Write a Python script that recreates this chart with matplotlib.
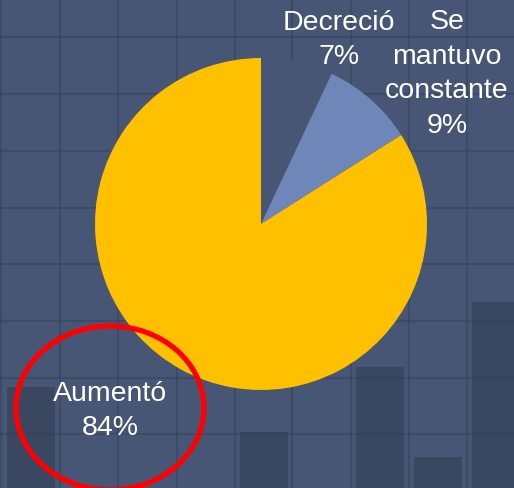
import matplotlib.pyplot as plt
from matplotlib.patches import Ellipse

plt.rcParams['font.family'] = ['Liberation Sans', 'DejaVu Sans']

# pie data (clockwise from 12 o'clock)
categorias = ['Decreció', 'Se\nmantuvo\nconstante', 'Aumentó']
porcentajes = [7, 9, 84]
colores = ['#465674', '#6E87B8', '#FFC000']

# decorative background (pixel coords)
grid_x = [1, 60, 118, 177, 235, 292, 351, 409, 467]
grid_y = [37, 94, 151, 208, 264, 321, 378, 434]
bar_left = [7, 240, 356, 414, 472]
bar_top = [387, 432, 367, 457, 302]

W, H = 514, 488
BG = '#465674'

fig = plt.figure(figsize=(W / 100, H / 100), dpi=100)
fig.patch.set_facecolor(BG)

# background layer
bg = fig.add_axes([0, 0, 1, 1])
bg.set_xlim(0, W)
bg.set_ylim(H, 0)
bg.set_facecolor(BG)
bg.axis('off')
bg.bar(bar_left, [H - t for t in bar_top], bottom=bar_top, width=48,
       align='edge', color='#3A4761', zorder=1)
for x in grid_x:
    bg.axvline(x, color='#323F57', lw=1.5, alpha=0.45, zorder=2)
for y in grid_y:
    bg.axhline(y, color='#323F57', lw=1.5, alpha=0.45, zorder=2)

# pie
cx, cy, r = 261, 224, 166
pa = fig.add_axes([(cx - r) / W, (H - cy - r) / H, 2 * r / W, 2 * r / H])
pa.pie(porcentajes, colors=colores, startangle=90, counterclock=False,
       radius=1, wedgeprops=dict(linewidth=0))
pa.set_xlim(-1, 1)
pa.set_ylim(-1, 1)
pa.axis('off')

# labels and highlight ellipse
fg = fig.add_axes([0, 0, 1, 1])
fg.set_xlim(0, W)
fg.set_ylim(H, 0)
fg.axis('off')
fg.patch.set_alpha(0)

etiquetas = [f'{c}\n{p}%' for c, p in zip(categorias, porcentajes)]
pos_x = [339, 447, 110]
pos_y = [40, 74, 411]
for t, x, y in zip(etiquetas, pos_x, pos_y):
    fg.text(x, y, t, ha='center', va='center', color='white',
            fontsize=20.5, linespacing=1.42)

fg.add_patch(Ellipse((110, 408), 188, 164, fill=False, edgecolor='#FF0000',
                     lw=3.8))

fig.savefig('out.png', dpi=100, facecolor=BG)
